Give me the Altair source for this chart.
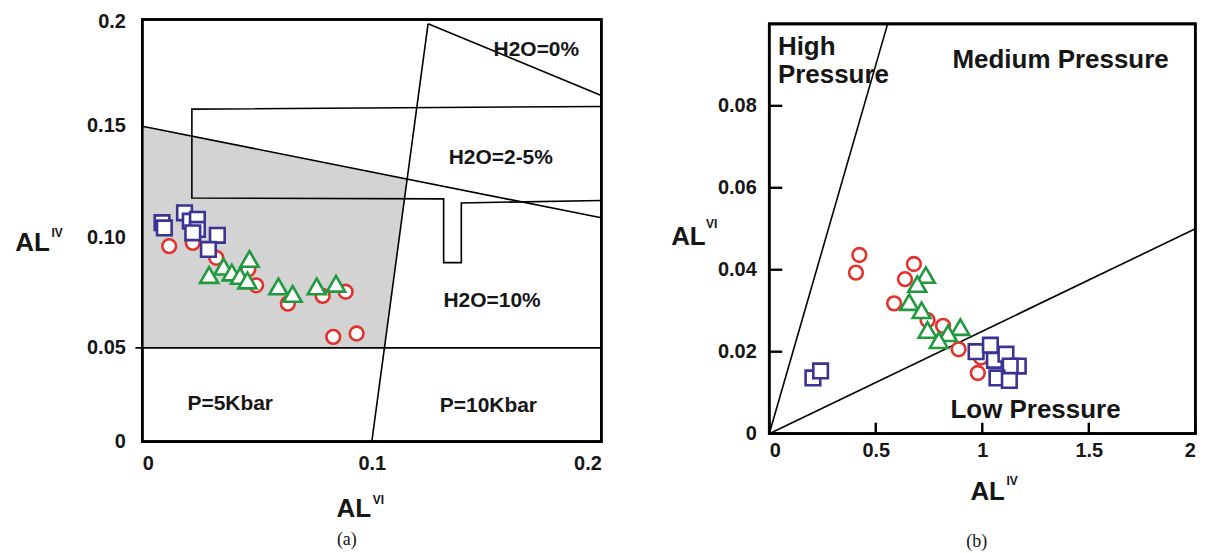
import altair as alt
import pandas as pd

FONT = "Liberation Sans"
SERIF = "Liberation Serif"
RED = "#e2322b"
GREEN = "#1f9a3f"
BLUE = "#3b3393"
GRAY = "#d3d3d3"
INK = "#161616"

# ---------------- panel (a) data ----------------
a_circle_x = [0.0117, 0.0220, 0.0322, 0.0462, 0.0496, 0.0634, 0.0786, 0.0886, 0.0832, 0.0934]
a_circle_y = [0.0962, 0.0977, 0.0909, 0.0857, 0.0784, 0.0701, 0.0736, 0.0755, 0.0550, 0.0565]
a_tri_x = [0.0291, 0.0354, 0.0390, 0.0426, 0.0458, 0.0467, 0.0593, 0.0655, 0.0760, 0.0844]
a_tri_y = [0.0831, 0.0869, 0.0842, 0.0827, 0.0806, 0.0904, 0.0779, 0.0745, 0.0779, 0.0791]
a_sq_x = [0.0086, 0.0096, 0.0184, 0.0209, 0.0240, 0.0240, 0.0220, 0.0327, 0.0288]
a_sq_y = [0.1067, 0.1044, 0.1111, 0.1074, 0.1082, 0.1037, 0.1022, 0.1011, 0.0947]

# boundary lines of panel (a)
a_sloped_x = [0.0, 0.2]
a_sloped_y = [0.1496, 0.1089]
a_steep_x = [0.1, 0.1245]
a_steep_y = [0.0, 0.1989]
a_h2o0_x = [0.1245, 0.2]
a_h2o0_y = [0.1989, 0.1644]
a_p5_x = [-0.003, 0.2]
a_p5_y = [0.05, 0.05]
a_box_x = [0.2, 0.0216, 0.0216, 0.1313, 0.1313, 0.139, 0.139, 0.2]
a_box_y = [0.1591, 0.1578, 0.1177, 0.1173, 0.0887, 0.0887, 0.1155, 0.1166]
# shaded field: top edge on the sloped line, bottom edge on 0.05 / steep line
a_gray_x = [0.0, 0.1054, 0.1153]
a_gray_top = [0.1496, 0.1281, 0.1261]
a_gray_bottom = [0.05, 0.05, 0.1261]

a_text = ["H2O=0%", "H2O=2-5%", "H2O=10%", "P=5Kbar", "P=10Kbar"]
a_text_x = [0.1717, 0.1562, 0.1524, 0.0383, 0.1508]
a_text_y = [0.1864, 0.1355, 0.0713, 0.0200, 0.0188]

a_x_ticks = [0, 0.1, 0.2]
a_x_labels = ["0", "0.1", "0.2"]
a_y_ticks = [0, 0.05, 0.1, 0.15, 0.2]
a_y_labels = ["0", "0.05", "0.10", "0.15", "0.2"]
a_x_domain = [0, 0.2]
a_y_frame = [0, 0.201]

# ---------------- panel (b) data ----------------
b_circle_x = [0.423, 0.407, 0.679, 0.637, 0.586, 0.743, 0.816, 0.889, 0.994, 0.979]
b_circle_y = [0.0436, 0.0393, 0.0414, 0.0377, 0.0318, 0.0277, 0.0263, 0.0206, 0.0186, 0.0148]
b_tri_x = [0.735, 0.695, 0.657, 0.715, 0.743, 0.897, 0.839, 0.796]
b_tri_y = [0.0387, 0.0365, 0.0321, 0.0301, 0.0253, 0.0260, 0.0245, 0.0228]
b_sq_x = [0.205, 0.241, 0.971, 1.038, 1.057, 1.111, 1.169, 1.131, 1.069, 1.127]
b_sq_y = [0.0136, 0.0153, 0.0200, 0.0216, 0.0179, 0.0194, 0.0165, 0.0165, 0.0136, 0.0130]

b_high_x = [0.0, 0.5557]
b_high_y = [0.0, 0.1]
b_low_x = [0.0, 2.0]
b_low_y = [0.0, 0.05]

b_text = ["High", "Pressure", "Medium Pressure", "Low Pressure"]
b_text_x = [0.0407, 0.0407, 0.860, 0.8506]
b_text_y = [0.0943, 0.0876, 0.0911, 0.0058]

b_x_ticks = [0, 0.5, 1, 1.5, 2]
b_x_labels = ["0", "0.5", "1", "1.5", "2"]
b_y_ticks = [0, 0.02, 0.04, 0.06, 0.08]
b_y_labels = ["0", "0.02", "0.04", "0.06", "0.08"]
b_x_domain = [0, 2]
b_y_frame = [0, 0.1]


def label_expr(values, labels):
    vals = ", ".join(str(v) for v in values)
    labs = ", ".join(f"'{l}'" for l in labels)
    return f"[{labs}][indexof([{vals}], datum.value)]"


def axis(values, labels, **kw):
    return alt.Axis(values=values, labelExpr=label_expr(values, labels), title=None, grid=False,
                    labelFont=FONT, labelFontSize=20, labelFontWeight="bold", labelColor=INK,
                    domain=False, ticks=False, tickSize=0, **kw)


def line(xs, ys, xsc, ysc, w=1.6):
    df = pd.DataFrame({"x": xs, "y": ys, "o": list(range(len(xs)))})
    return alt.Chart(df).mark_line(color="black", strokeWidth=w).encode(
        x=alt.X("x:Q", scale=xsc), y=alt.Y("y:Q", scale=ysc), order="o:Q")


def points(xs, ys, shape, color, size, xsc, ysc):
    df = pd.DataFrame({"x": xs, "y": ys})
    return alt.Chart(df).mark_point(shape=shape, filled=True, fill="white", stroke=color,
                                    strokeWidth=2.6, size=size, opacity=1).encode(
        x=alt.X("x:Q", scale=xsc), y=alt.Y("y:Q", scale=ysc))


def label(text, x, y, size, align="center", baseline="middle", weight="bold", font=FONT, color=INK):
    return alt.Chart(pd.DataFrame({"t": [text]})).mark_text(
        font=font, fontSize=size, fontWeight=weight, align=align, baseline=baseline, color=color
    ).encode(x=alt.value(x), y=alt.value(y), text="t:N")


# ---------------- panel (a) ----------------
ax = alt.Scale(domain=a_x_domain, nice=False, zero=False)
ay = alt.Scale(domain=[0, 0.05, 0.1, 0.15, 0.2, 0.201], range=[423, 329, 218.7, 106, 2, 0],
               nice=False, zero=False)

a_frame = alt.Chart(pd.DataFrame({"x": [a_x_domain[0]], "x2": [a_x_domain[1]],
                                  "y": [a_y_frame[0]], "y2": [a_y_frame[1]]})).mark_rect(
    fill="transparent", stroke="black", strokeWidth=2.6).encode(
    x=alt.X("x:Q", scale=ax, axis=axis(a_x_ticks, a_x_labels, labelPadding=12)),
    x2="x2:Q",
    y=alt.Y("y:Q", scale=ay, axis=axis(a_y_ticks, a_y_labels, labelPadding=17)),
    y2="y2:Q")

a_gray = alt.Chart(pd.DataFrame({"x": a_gray_x, "y": a_gray_top, "y2": a_gray_bottom})).mark_area(
    color=GRAY, opacity=1).encode(
    x=alt.X("x:Q", scale=ax), y=alt.Y("y:Q", scale=ay), y2="y2:Q")

a_texts = alt.Chart(pd.DataFrame({"x": a_text_x, "y": a_text_y, "t": a_text})).mark_text(
    font=FONT, fontSize=21, fontWeight="bold", color=INK, align="center", baseline="middle").encode(
    x=alt.X("x:Q", scale=ax), y=alt.Y("y:Q", scale=ay), text="t:N")

panel_a = alt.layer(
    a_frame,
    a_gray,
    line(a_sloped_x, a_sloped_y, ax, ay),
    line(a_steep_x, a_steep_y, ax, ay),
    line(a_h2o0_x, a_h2o0_y, ax, ay),
    line(a_p5_x, a_p5_y, ax, ay),
    line(a_box_x, a_box_y, ax, ay),
    a_texts,
    points(a_circle_x, a_circle_y, "circle", RED, 190, ax, ay),
    points(a_tri_x, a_tri_y, "triangle-up", GREEN, 330, ax, ay),
    points(a_sq_x, a_sq_y, "square", BLUE, 215, ax, ay),
    a_frame,
    label("AL", 212, 491, 26),
    label("VI", 231, 476, 12, align="left", baseline="top"),
    label("AL", -110, 223.5, 26),
    label("IV", -91, 209, 12, align="left", baseline="top"),
    label("(a)", 205, 526.8, 18, weight="normal", font=SERIF, baseline="alphabetic"),
).properties(width=460, height=423)

# ---------------- panel (b) ----------------
B_W, B_H = 427, 415
B_Y_MAX = 0.10105
bx = alt.Scale(domain=b_x_domain, nice=False, zero=False)
by = alt.Scale(domain=[0, B_Y_MAX], nice=False, zero=False)

b_frame = alt.Chart(pd.DataFrame({"x": [b_x_domain[0]], "x2": [b_x_domain[1]],
                                  "y": [b_y_frame[0]], "y2": [b_y_frame[1]]})).mark_rect(
    fill="transparent", stroke="black", strokeWidth=2.6).encode(
    x=alt.X("x:Q", scale=bx, axis=axis(b_x_ticks, b_x_labels, labelPadding=7)),
    x2="x2:Q",
    y=alt.Y("y:Q", scale=by, axis=axis(b_y_ticks, b_y_labels, labelPadding=13)),
    y2="y2:Q")

# inward tick marks (13 px on the y axis, 11 px on the x axis), drawn as short line segments
tick_len_x = 13 * (b_x_domain[1] - b_x_domain[0]) / B_W
tick_len_y = 11 * B_Y_MAX / B_H
tick_rows = []
for i, v in enumerate(b_y_ticks):
    tick_rows += [{"id": f"y{i}", "o": 0, "x": 0.0, "y": v},
                  {"id": f"y{i}", "o": 1, "x": tick_len_x, "y": v}]
for i, v in enumerate(b_x_ticks):
    tick_rows += [{"id": f"x{i}", "o": 0, "x": v, "y": 0.0},
                  {"id": f"x{i}", "o": 1, "x": v, "y": tick_len_y}]
b_ticks = alt.Chart(pd.DataFrame(tick_rows)).mark_line(color="black", strokeWidth=2.4).encode(
    x=alt.X("x:Q", scale=bx), y=alt.Y("y:Q", scale=by), detail="id:N", order="o:Q")

b_texts = alt.Chart(pd.DataFrame({"x": b_text_x, "y": b_text_y, "t": b_text})).mark_text(
    font=FONT, fontSize=26, fontWeight="bold", color=INK, align="left", baseline="middle").encode(
    x=alt.X("x:Q", scale=bx), y=alt.Y("y:Q", scale=by), text="t:N")

panel_b = alt.layer(
    b_frame,
    b_ticks,
    line(b_high_x, b_high_y, bx, by),
    line(b_low_x, b_low_y, bx, by),
    b_texts,
    points(b_circle_x, b_circle_y, "circle", RED, 190, bx, by),
    points(b_tri_x, b_tri_y, "triangle-up", GREEN, 320, bx, by),
    points(b_sq_x, b_sq_y, "square", BLUE, 215, bx, by),
    b_frame,
    label("AL", 218.9, 473, 26),
    label("IV", 237.7, 457.8, 12, align="left", baseline="top"),
    label("AL", -81, 217.5, 26),
    label("VI", -63.3, 199.4, 12, align="left", baseline="top"),
    label("(b)", 208, 528.8, 18, weight="normal", font=SERIF, baseline="alphabetic"),
).properties(width=B_W, height=B_H)

chart = alt.hconcat(panel_a, panel_b, spacing=168.3, bounds="flush").properties(
    padding={"left": 6.6, "top": 2, "right": 4, "bottom": 0},
    background="white",
).configure_view(stroke="transparent")

chart.save("out.html", embed_options={"renderer": "svg", "actions": False})
